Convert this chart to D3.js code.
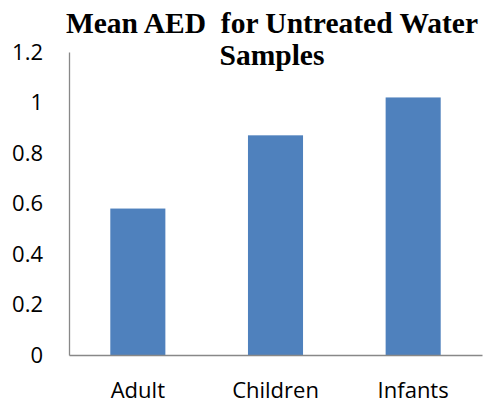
<!DOCTYPE html>
<html>
<head>
<meta charset="utf-8">
<script src="https://cdn.jsdelivr.net/npm/d3@7"></script>
<style>
  body { margin: 0; background: #fff; }
  .axis text { font-family: "Open Sans", sans-serif; font-size: 22px; fill: #000; }
  .axis path { stroke: #888; stroke-width: 1.3px; }
</style>
</head>
<body>
<script>
// Chart data
var categories = ["Adult", "Children", "Infants"];
var meanAED = [0.58, 0.87, 1.02];
var yTicks = [0, 0.2, 0.4, 0.6, 0.8, 1, 1.2];
var titleLines = ["Mean AED  for Untreated Water", "Samples"];

// SVG area
var svgWidth = 483;
var svgHeight = 403;

var margin = { top: 52, right: 1, bottom: 48, left: 69 };
var chartWidth = svgWidth - margin.left - margin.right;
var chartHeight = svgHeight - margin.top - margin.bottom;

var svg = d3.select("body")
  .append("svg")
  .attr("width", svgWidth)
  .attr("height", svgHeight);

var chartGroup = svg.append("g")
  .attr("transform", `translate(${margin.left}, ${margin.top})`);

// Scales
var xBandScale = d3.scaleBand()
  .domain(categories)
  .range([0, chartWidth])
  .paddingInner(0.6)
  .paddingOuter(0.3);

var yLinearScale = d3.scaleLinear()
  .domain([0, 1.2])
  .range([chartHeight, 0]);

// Bars
chartGroup.selectAll("rect")
  .data(meanAED)
  .enter()
  .append("rect")
  .attr("x", (d, i) => xBandScale(categories[i]))
  .attr("y", d => yLinearScale(d))
  .attr("width", xBandScale.bandwidth())
  .attr("height", d => chartHeight - yLinearScale(d))
  .attr("fill", "#4f81bd");

// Axes
var leftAxis = d3.axisLeft(yLinearScale)
  .tickValues(yTicks)
  .tickFormat(d3.format("~g"))
  .tickSize(0)
  .tickPadding(26);

var bottomAxis = d3.axisBottom(xBandScale)
  .tickSize(0)
  .tickPadding(27);

chartGroup.append("g")
  .classed("axis", true)
  .call(leftAxis);

chartGroup.append("g")
  .classed("axis", true)
  .attr("transform", `translate(0, ${chartHeight})`)
  .call(bottomAxis);

// Title
var title = svg.append("text")
  .attr("x", 272)
  .attr("y", 33)
  .attr("text-anchor", "middle")
  .style("font-family", "'Liberation Serif', 'Times New Roman', serif")
  .style("font-weight", "bold")
  .style("font-size", "29.5px")
  .style("white-space", "pre");

title.selectAll("tspan")
  .data(titleLines)
  .enter()
  .append("tspan")
  .attr("x", 272)
  .attr("dy", (d, i) => i === 0 ? 0 : 32)
  .text(d => d);
</script>
</body>
</html>
